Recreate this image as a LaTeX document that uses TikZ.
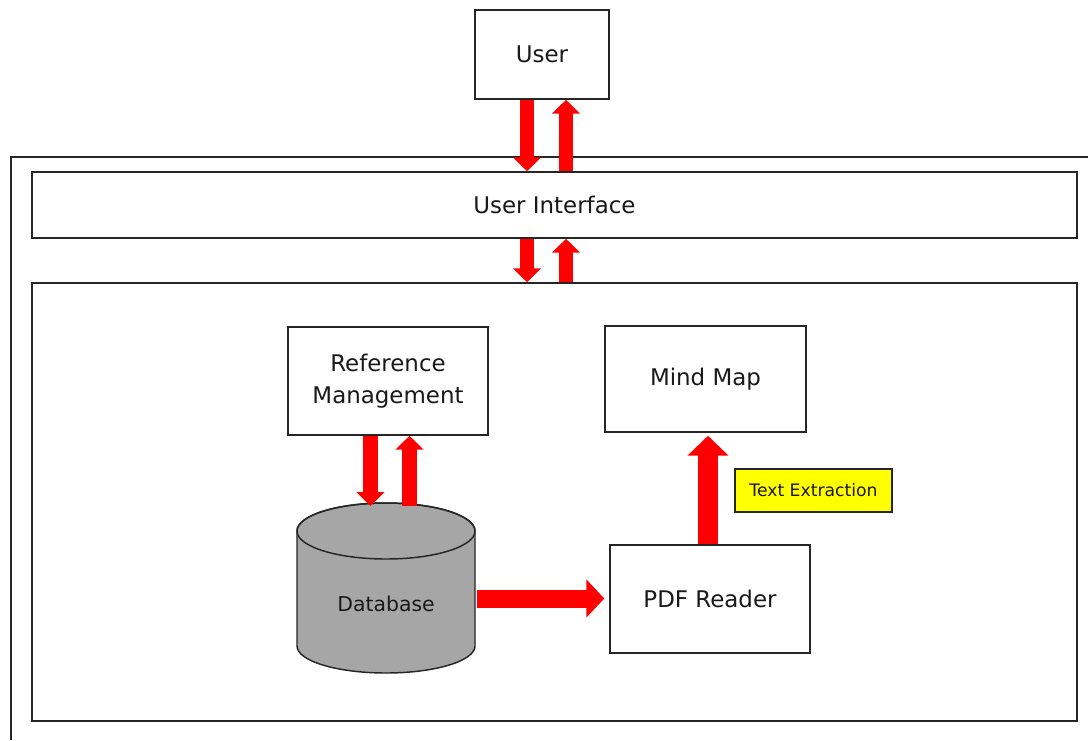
\documentclass[tikz,border=0pt]{standalone}
\usepackage{fontspec}
\setmainfont{DejaVu Sans}
\usetikzlibrary{arrows.meta,calc}
\definecolor{edge}{HTML}{262626}
\definecolor{dbgray}{HTML}{A6A6A6}
\definecolor{flow}{HTML}{FF0000}
\definecolor{tag}{HTML}{FFFF00}
\tikzset{
  x=0.75pt, y=-0.75pt,
  box/.style={draw=edge, line width=1.1pt, fill=white, rectangle, inner sep=0pt,
              align=center, font=\fontsize{17.2}{23.5}\selectfont, text=black!90},
  flowsmall/.style={draw=flow, line width=11pt,
              -{Triangle[width=20.5pt,length=10.5pt]}},
  flowbig/.style={draw=flow, line width=13.5pt,
              -{Triangle[width=28pt,length=13.5pt]}},
  cyl/.style={draw=edge, line width=1.1pt, fill=dbgray},
}
\begin{document}
\begin{tikzpicture}
\useasboundingbox (0,0) rectangle (1088,740);

% system frame, open to the right and below
\draw[edge, line width=1.1pt] (11,740) -- (11,157) -- (1088,157);

% blocks
\node[box, minimum width=100.5pt, minimum height=66.75pt] (user) at (542,54.5) {User};
\node[box, minimum width=783.75pt, minimum height=49.5pt] (ui) at (554.5,205) {User Interface};
\node[box, minimum width=783.75pt, minimum height=328.5pt] (core) at (554.5,502) {};
\node[box, minimum width=150pt, minimum height=81pt] (ref) at (388,381) {Reference\\Management};
\node[box, minimum width=150.75pt, minimum height=79.5pt] (mind) at (705.5,379) {Mind Map};
\node[box, minimum width=150pt, minimum height=81pt] (pdf) at (710,599) {PDF Reader};
\node[box, fill=tag, minimum width=117.75pt, minimum height=32.25pt,
      font=\fontsize{12.9}{16}\selectfont] (extract) at (813.5,490.5) {Text Extraction};

% database cylinder
\filldraw[cyl] (297,531) -- (297,646)
  arc[start angle=180, end angle=0, x radius=89, y radius=27]
  -- (475,531)
  arc[start angle=0, end angle=-180, x radius=89, y radius=28] -- cycle;
\draw[edge, line width=1.1pt] (386,531) ellipse [x radius=89, y radius=28];
\node[font=\fontsize{15.3}{18}\selectfont, text=black!90] (db) at (386,604) {Database};
\coordinate (dbtop) at (386,506);
\coordinate (dbright) at (477,598.5);

% lanes for the paired arrows
\coordinate (down1) at (527,0);
\coordinate (up1) at (566,0);
\coordinate (down2) at (370.5,0);
\coordinate (up2) at (409.5,0);
\coordinate (lift) at (708,0);

% data flow
\draw[flowsmall] (user.south -| down1) -- (ui.north -| down1);
\draw[flowsmall] (ui.north -| up1) -- (user.south -| up1);
\draw[flowsmall] (ui.south -| down1) -- (core.north -| down1);
\draw[flowsmall] (core.north -| up1) -- (ui.south -| up1);
\draw[flowsmall] (ref.south -| down2) -- (dbtop -| down2);
\draw[flowsmall] (dbtop -| up2) -- (ref.south -| up2);
\draw[flowbig, shorten >=3.75pt] (dbright) -- (pdf.west |- dbright);
\draw[flowbig, line width=15pt, -{Triangle[width=30pt,length=15pt]}, shorten >=2.25pt]
  (pdf.north -| lift) -- (mind.south -| lift);
\end{tikzpicture}
\end{document}
